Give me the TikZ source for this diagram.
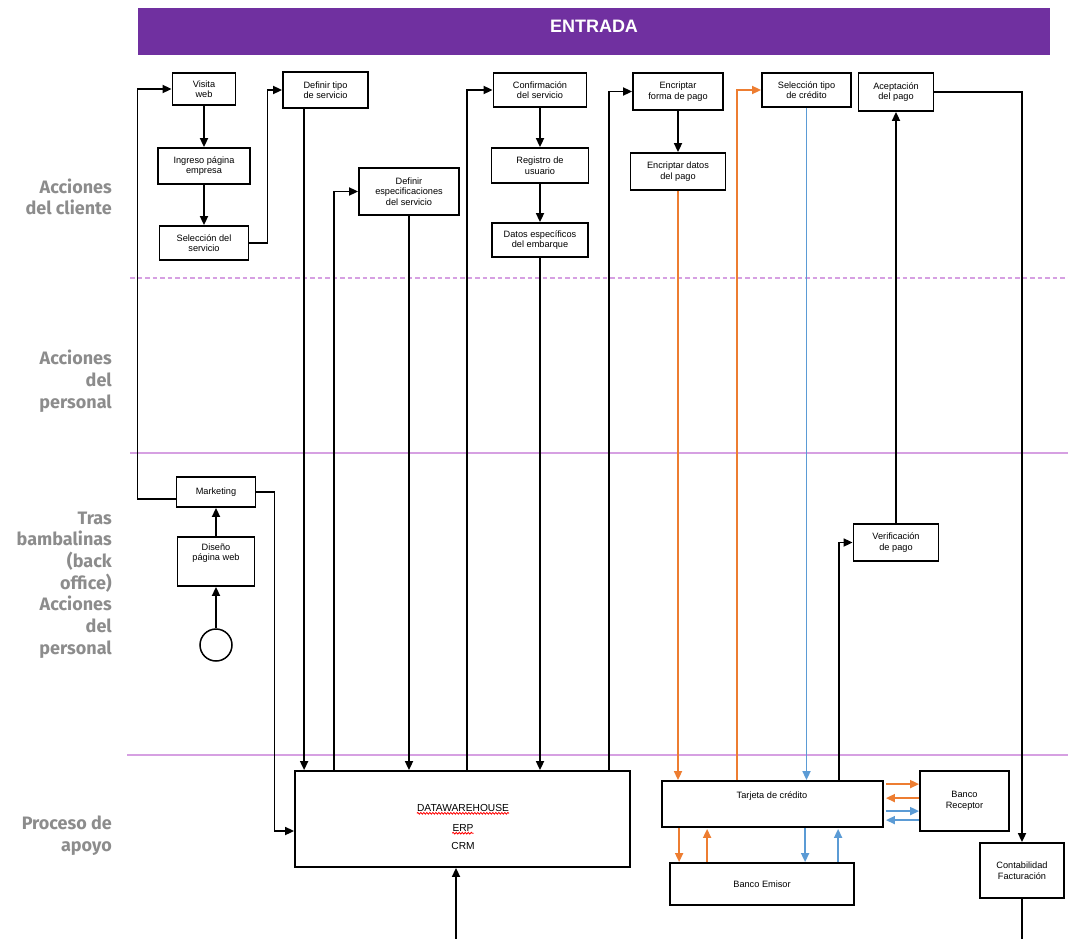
\documentclass[tikz,border=0pt]{standalone}
\usepackage{fontspec}
\setmainfont{Liberation Sans}
\newfontfamily\lanefont{Fira Sans}
\usetikzlibrary{arrows.meta,calc,decorations.pathmorphing}

\definecolor{hdrpurple}{RGB}{112,48,160}
\definecolor{lanepurple}{RGB}{214,160,226}
\definecolor{lanegray}{RGB}{140,140,140}
\definecolor{payorange}{RGB}{237,125,49}
\definecolor{payblue}{RGB}{91,155,213}

\begin{document}
\begin{tikzpicture}[x=1pt,y=-1pt,
  box/.style={draw, line width=1.8pt, inner sep=0pt, align=center,
    font=\fontsize{9.2}{10.5}\selectfont},
  boxtext/.style={inner sep=0pt, align=center, font=\fontsize{9.2}{10.5}\selectfont},
  bigtext/.style={inner sep=0pt, align=center, font=\fontsize{10.2}{12}\selectfont},
  arr/.style={line width=1.7pt, -{Triangle[length=9pt,width=8pt]}},
  plain/.style={line width=1.7pt},
  lane/.style={lanepurple, line width=1.6pt},
  lanelabel/.style={anchor=east, align=right, text=lanegray, inner sep=0pt,
    font=\lanefont\bfseries\fontsize{18}{21.7}\selectfont},
  spell/.style={red, line width=0.8pt, decorate,
    decoration={snake, amplitude=0.9pt, segment length=3pt}}]

\useasboundingbox (0,0) rectangle (1068,939);

% header band
\node[fill=hdrpurple, minimum width=912, minimum height=47, inner sep=0pt,
      anchor=north west] (hdr) at (138,8) {};
\node[text=white, font=\bfseries\fontsize{18}{20}\selectfont, inner sep=0pt]
      (hdrtext) at (594,26) {ENTRADA};

% lane separators
\draw[lane, dash pattern=on 4.5pt off 3pt] (130,278) -- (1068,278);
\draw[lane] (130,453) -- (1068,453);
\draw[lane] (127,755) -- (1068,755);

% lane titles
\node[lanelabel] (lane1) at (112,197) {Acciones\\del cliente};
\node[lanelabel] (lane2) at (112,381) {Acciones\\del\\personal};
\node[lanelabel] (lane3) at (112,585) {Tras\\bambalinas\\(back\\office)\\Acciones\\del\\personal};
\node[lanelabel] (lane4) at (112,836) {Proceso de\\apoyo};

% customer actions
\node[box, minimum width=63, minimum height=32] (visita)   at (204,89)    {Visita\\web};
\node[box, minimum width=92, minimum height=36] (ingreso)  at (204,166)   {Ingreso página\\empresa};
\node[box, minimum width=89, minimum height=34] (selSvc)   at (204,243)   {Selección del\\servicio};
\node[box, minimum width=85, minimum height=36] (defTipo)  at (325.5,90)  {Definir tipo\\de servicio};
\node[box, minimum width=100, minimum height=47] (defEsp)  at (409,191.5) {Definir\\especificaciones\\del servicio};
\node[box, minimum width=93, minimum height=34] (confirm)  at (540,90)    {Confirmación\\del servicio};
\node[box, minimum width=97, minimum height=35] (registro) at (540,165.5) {Registro de\\usuario};
\node[box, minimum width=96, minimum height=34] (datos)    at (540,240)   {Datos específicos\\del embarque};
\node[box, minimum width=90, minimum height=37] (encForma) at (678,91.5)  {Encriptar\\forma de pago};
\node[box, minimum width=95, minimum height=37] (encDatos) at (678,171.5) {Encriptar datos\\del pago};
\node[box, minimum width=89, minimum height=34] (selTipo)  at (806.5,90)  {Selección tipo\\de crédito};
\node[box, minimum width=75, minimum height=38] (acept)    at (896,92)    {Aceptación\\del pago};

% back office
\node[box, minimum width=79, minimum height=30] (mkt)    at (216,492)   {Marketing};
\node[box, minimum width=77, minimum height=49] (diseno) at (216,561.5) {};
\node[boxtext] (disenoText) at (216,553) {Diseño\\página web};
\node[circle, draw, line width=1.5pt, minimum size=32, inner sep=0pt] (start) at (216,645) {};
\node[box, minimum width=85, minimum height=37] (verif) at (896,542.5) {Verificación\\de pago};

% support processes
\node[box, minimum width=335, minimum height=96] (big) at (462.5,819) {};
\node[bigtext] (dw)  at (463,808) {DATAWAREHOUSE};
\node[bigtext] (erp) at (463,828) {ERP};
\node[bigtext] (crm) at (463,846) {CRM};
\draw[spell] ([yshift=-1.5pt]dw.south west) -- ([yshift=-1.5pt]dw.south east);
\draw[spell] ([yshift=-1.5pt]erp.south west) -- ([yshift=-1.5pt]erp.south east);

\node[box, minimum width=221, minimum height=46] (tarjeta) at (772.5,804) {};
\node[boxtext] (tarjetaText) at (772,796) {Tarjeta de crédito};
\node[box, minimum width=89, minimum height=60] (receptor) at (964.5,801) {Banco\\Receptor};
\node[box, minimum width=184, minimum height=42] (emisor) at (762,884) {Banco Emisor};
\node[box, minimum width=84, minimum height=55] (conta) at (1022,870.5) {Contabilidad\\Facturación};

% customer flow
\draw[arr] (visita) -- (ingreso);
\draw[arr] (ingreso) -- (selSvc);
\draw[arr] (selSvc.east) -- ++(18,0) |- (defTipo.west);
\draw[arr] ([yshift=-7pt]mkt.west) -- ++(-38,0) |- (visita.west);
\draw[arr] (diseno) -- (mkt);
\draw[arr] (start) -- (diseno);
\draw[arr] (mkt.east) -- ++(18,0) |- ([yshift=-12pt]big.west);

\coordinate (dtOut) at ($(defTipo.south west)+(22,0)$);
\draw[arr] (dtOut) -- (dtOut |- big.north);
\coordinate (bigA) at ($(big.north west)+(40,0)$);
\draw[arr] (bigA) |- (defEsp.west);
\draw[arr] (defEsp.south) -- (defEsp.south |- big.north);
\coordinate (bigB) at ($(big.north west)+(173,0)$);
\draw[arr] (bigB) |- (confirm.west);
\draw[arr] (confirm) -- (registro);
\draw[arr] (registro) -- (datos);
\draw[arr] (datos.south) -- (datos.south |- big.north);
\coordinate (bigC) at ($(big.north east)+(-22,0)$);
\draw[arr] (bigC) |- (encForma.west);
\draw[arr] (encForma) -- (encDatos);

% payment flow
\draw[arr, payorange] (encDatos.south) -- (encDatos.south |- tarjeta.north);
\coordinate (tjA) at ($(tarjeta.north west)+(76,0)$);
\draw[arr, payorange] (tjA) |- (selTipo.west);
\draw[arr, payblue] (selTipo.south) -- (selTipo.south |- tarjeta.north);
\coordinate (tjB) at ($(tarjeta.north west)+(178,0)$);
\draw[arr] (tjB) |- (verif.west);
\draw[arr] (verif) -- (acept);
\draw[arr] (acept.east) -| (conta.north);
\coordinate (contaEnd) at (1022,939);
\draw[plain] (conta.south) -- (contaEnd);
\coordinate (bigFeed) at (456,939);
\draw[arr] (bigFeed) -- (bigFeed |- big.south);

% card <-> acquiring bank
\draw[arr, payorange] ($(tarjeta.north east)+(2,4)$)  -- ($(receptor.north west)+(0,14)$);
\draw[arr, payorange] ($(receptor.north west)+(0,28)$) -- ($(tarjeta.north east)+(2,18)$);
\draw[arr, payblue]   ($(tarjeta.north east)+(2,31)$) -- ($(receptor.north west)+(0,41)$);
\draw[arr, payblue]   ($(receptor.north west)+(0,50)$) -- ($(tarjeta.north east)+(2,40)$);

% card <-> issuing bank
\draw[arr, payorange] ($(tarjeta.south west)+(18,0)$)  -- ($(emisor.north west)+(10,0)$);
\draw[arr, payorange] ($(emisor.north west)+(38,0)$)   -- ($(tarjeta.south west)+(46,1)$);
\draw[arr, payblue]   ($(tarjeta.south west)+(144,0)$) -- ($(emisor.north west)+(136,0)$);
\draw[arr, payblue]   ($(emisor.north west)+(169,0)$)  -- ($(tarjeta.south west)+(177,1)$);

\end{tikzpicture}
\end{document}
